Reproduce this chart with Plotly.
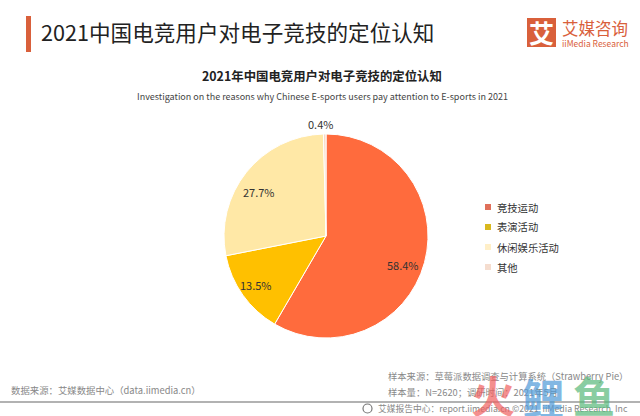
import plotly.graph_objects as go

categories = ["竞技运动", "表演活动", "休闲娱乐活动", "其他"]
values = [58.4, 13.5, 27.7, 0.4]
colors = ["#FF6B3D", "#FFC000", "#FFE8A6", "#FAD9C4"]
legend_colors = ["#E0705A", "#D9B81E", "#FFEFC8", "#F5DDCF"]
W, H = 640, 416
FONT = "Noto Sans CJK SC"

def px(x): return x / W
def py(y): return 1 - y / H

fig = go.Figure(go.Pie(
    labels=categories, values=values, sort=False, direction="clockwise", rotation=0,
    marker=dict(colors=colors, line=dict(color="white", width=1)),
    textinfo="none", showlegend=False,
    domain=dict(x=[px(224), px(428)], y=[py(338), py(134)]),
))

def txt(x, y, s, size, color="#333333", anchor="left", opacity=1):
    fig.add_annotation(x=px(x), y=py(y), xref="paper", yref="paper", text=s, showarrow=False,
                       xanchor=anchor, yanchor="middle", opacity=opacity,
                       font=dict(size=size, color=color, family=FONT))

# slice labels
for v, (lx, ly) in zip(values, [(403, 265), (256, 285), (259, 192), (320, 124)]):
    txt(lx, ly, f"{v}%", 11, "#333333", "center")

# legend
for i, (c, lc) in enumerate(zip(categories, legend_colors)):
    y = 207 + 20 * i
    fig.add_shape(type="rect", xref="paper", yref="paper", x0=px(485), x1=px(491), y0=py(y + 3), y1=py(y - 3),
                  fillcolor=lc, line_width=0)
    txt(495, y, c, 10.3, "#333333")

txt(38.5, 32, "2021中国电竞用户对电子竞技的定位认知", 21.6, "#222222")
txt(322, 76, "<b>2021年中国电竞用户对电子竞技的定位认知</b>", 12.4, "#222222", "center")
txt(322, 96, "Investigation on the reasons why Chinese E-sports users pay attention to E-sports in 2021", 9, "#444444", "center")
txt(560, 28, "艾媒咨询", 16.5, "#D9603B")
txt(560, 42.5, "iiMedia Research", 8.5, "#D9603B")
txt(541.5, 32, "<b>艾</b>", 25, "white", "center")
txt(9, 390, "数据来源：艾媒数据中心（data.iimedia.cn）", 9.4, "#888888")
txt(386, 376, "样本来源：草莓派数据调查与计算系统（Strawberry Pie）", 9.3, "#888888")
txt(386, 392, "样本量：N=2620；调研时间：2021年5月", 9.3, "#888888")
txt(376, 408, "艾媒报告中心：report.iimedia.cn ©2021  iiMedia Research  Inc", 8.75, "#888888")

fig.add_shape(type="rect", xref="paper", yref="paper", x0=px(26), x1=px(31), y0=py(52), y1=py(16),
              fillcolor="#D9603B", line_width=0)
fig.add_shape(type="rect", xref="paper", yref="paper", x0=px(527), x1=px(556), y0=py(47), y1=py(18),
              fillcolor="#D9603B", line_width=0, layer="below")
fig.add_shape(type="line", xref="paper", yref="paper", x0=0, x1=1, y0=py(402), y1=py(402),
              line=dict(color="#999999", width=1.5))
fig.add_shape(type="circle", xref="paper", yref="paper", x0=px(363), x1=px(372), y0=py(413), y1=py(404),
              line=dict(color="#777777", width=1.2))

txt(493, 394, "<b>火</b>", 44, "#F0605F", "center", 0.7)
txt(543, 396, "<b>鲤</b>", 42, "#4E9AD8", "center", 0.7)
txt(594, 394, "<b>鱼</b>", 42, "#58B87A", "center", 0.7)

fig.update_layout(
    width=W, height=H, margin=dict(l=0, r=0, t=0, b=0), paper_bgcolor="white",
    font=dict(family=FONT), showlegend=False,
)
fig.write_html("out.html", config={"displayModeBar": False}, post_script="document.body.style.margin='0';")
